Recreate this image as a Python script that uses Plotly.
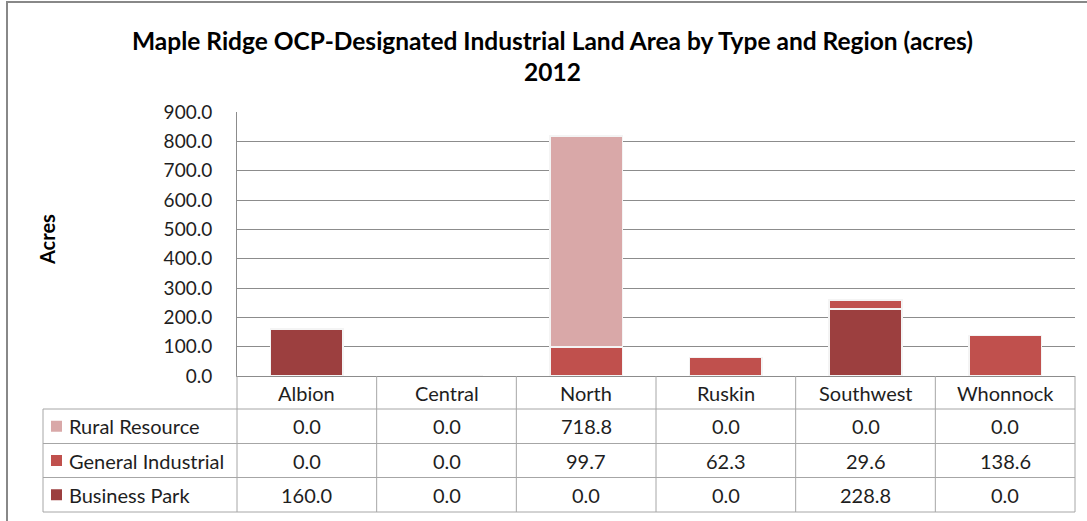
import plotly.graph_objects as go

regions = ["Albion", "Central", "North", "Ruskin", "Southwest", "Whonnock"]
series_names = ["Rural Resource", "General Industrial", "Business Park"]
rural_resource = [0.0, 0.0, 718.8, 0.0, 0.0, 0.0]
general_industrial = [0.0, 0.0, 99.7, 62.3, 29.6, 138.6]
business_park = [160.0, 0.0, 0.0, 0.0, 228.8, 0.0]
y_ticks = [0, 100, 200, 300, 400, 500, 600, 700, 800, 900]

colors = {"Rural Resource": "#D9A8A8", "General Industrial": "#C0504D", "Business Park": "#9C3F3F"}
values = {"Rural Resource": rural_resource, "General Industrial": general_industrial,
          "Business Park": business_park}

W, H = 1087, 521
L, R = 237, 1075     # plot area pixel extent
T, B = 112, 512      # paper top/bottom pixels (chart + table)
Y0 = 376             # pixel of y=0
FONT = "Lato"
GRID = "#8C8C8C"
TAB = "#A6A6A6"
TXT = "#1E1E1E"


def px(x):
    return (x - L) / (R - L)


def py(y):
    return (B - y) / (B - T)


fig = go.Figure()
for name in ["Business Park", "General Industrial", "Rural Resource"]:
    fig.add_trace(go.Bar(x=regions, y=values[name], name=name, width=0.52,
                         marker=dict(color=colors[name], line=dict(color="#F4F4F4", width=1.5)),
                         showlegend=False, hoverinfo="skip"))

shapes = []
annotations = []
ncat = len(regions)
colw = (R - L) / ncat
# header row verticals
for i in range(ncat + 1):
    xx = L + i * colw
    shapes.append(dict(type="line", xref="paper", yref="paper", x0=px(xx), x1=px(xx),
                       y0=py(Y0), y1=py(409), line=dict(color=TAB, width=1)))
# table grid
row_y = [409, 443.5, 477.5, 512]
for yy in row_y:
    shapes.append(dict(type="line", xref="paper", yref="paper", x0=px(43), x1=px(R),
                       y0=py(yy), y1=py(yy), line=dict(color=TAB, width=1)))
for xx in [43] + [L + i * colw for i in range(ncat + 1)]:
    shapes.append(dict(type="line", xref="paper", yref="paper", x0=px(xx), x1=px(xx),
                       y0=py(409), y1=py(512), line=dict(color=TAB, width=1)))
# outer chart border
shapes.append(dict(type="rect", xref="paper", yref="paper", x0=px(7), x1=px(1100),
                   y0=py(530), y1=py(2), line=dict(color="#888888", width=2)))

# header labels
for i, reg in enumerate(regions):
    annotations.append(dict(x=px(L + (i + 0.5) * colw), y=py(393), xref="paper", yref="paper",
                            text=reg, showarrow=False, font=dict(family=FONT, size=20, color=TXT),
                            xanchor="center", yanchor="middle"))
# rows
for r, name in enumerate(series_names):
    cy = (row_y[r] + row_y[r + 1]) / 2
    shapes.append(dict(type="rect", xref="paper", yref="paper", x0=px(51), x1=px(62),
                       y0=py(cy + 5.5), y1=py(cy - 5.5), fillcolor=colors[name],
                       line=dict(width=0)))
    annotations.append(dict(x=px(67), y=py(cy), xref="paper", yref="paper", text=name,
                            showarrow=False, font=dict(family=FONT, size=20, color=TXT),
                            xanchor="left", yanchor="middle"))
    for i, v in enumerate(values[name]):
        annotations.append(dict(x=px(L + (i + 0.5) * colw), y=py(cy), xref="paper", yref="paper",
                                text=f"{v:.1f}", showarrow=False,
                                font=dict(family=FONT, size=20, color=TXT),
                                xanchor="center", yanchor="middle"))

# title
annotations.append(dict(x=px(552), y=py(40), xref="paper", yref="paper",
                        text="<b>Maple Ridge OCP-Designated Industrial Land Area by Type and Region (acres)</b>",
                        showarrow=False, font=dict(family=FONT, size=24.5, color="#000"),
                        xanchor="center", yanchor="middle"))
annotations.append(dict(x=px(552), y=py(72), xref="paper", yref="paper", text="<b>2012</b>",
                        showarrow=False, font=dict(family=FONT, size=24.5, color="#000"),
                        xanchor="center", yanchor="middle"))
# y axis title
annotations.append(dict(x=px(47), y=py(240), xref="paper", yref="paper", text="<b>Acres</b>",
                        showarrow=False, textangle=-90, font=dict(family=FONT, size=20, color="#000"),
                        xanchor="center", yanchor="middle"))

fig.update_layout(
    template="none",
    width=W, height=H, autosize=False,
    margin=dict(l=L, r=W - R, t=T, b=H - B, pad=0, autoexpand=False),
    paper_bgcolor="white", plot_bgcolor="white",
    barmode="stack", bargap=0.48,
    font=dict(family=FONT, size=19, color=TXT),
    xaxis=dict(showticklabels=False, ticks="", showgrid=False, showline=True, automargin=False,
               linecolor=GRID, linewidth=1, range=[-0.5, 5.5], fixedrange=True),
    yaxis=dict(domain=[py(Y0), 1], range=[0, 900], tickvals=y_ticks, automargin=False,
               ticktext=[f"{v:.1f}" for v in y_ticks], showgrid=True, gridcolor=GRID,
               gridwidth=1, showline=True, linecolor=GRID, linewidth=1, ticks="",
               ticklabelstandoff=20, zeroline=False, fixedrange=True,
               tickfont=dict(family=FONT, size=19, color=TXT)),
    shapes=shapes, annotations=annotations,
)

fig.write_html("out.html", config={"displayModeBar": False, "responsive": False},
               post_script="document.body.style.margin='0';document.body.style.overflow='hidden';")
